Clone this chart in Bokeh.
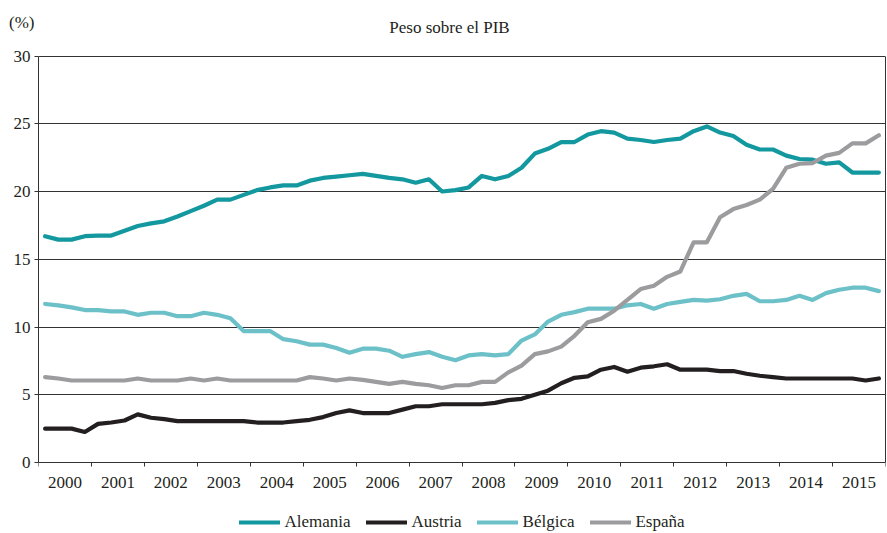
import numpy as np
from bokeh.plotting import figure
from bokeh.models import (FixedTicker, Legend, LegendItem, Label, Range1d, ColumnDataSource,
                          LinearAxis)
from bokeh.embed import file_html
from bokeh.resources import INLINE

# ---- data (quarterly, 2000Q1 .. 2015Q4) ----
years = [str(y) for y in range(2000, 2016)]
y_ticks = [0, 5, 10, 15, 20, 25, 30]

alemania = [16.7, 16.45, 16.45, 16.7, 16.75, 16.75, 17.1, 17.45, 17.65, 17.8, 18.15, 18.55,
            18.95, 19.4, 19.4, 19.75, 20.1, 20.3, 20.45, 20.45, 20.8, 21.0, 21.1, 21.2,
            21.3, 21.15, 21.0, 20.9, 20.65, 20.9, 20.0, 20.1, 20.3, 21.15, 20.9, 21.15,
            21.75, 22.8, 23.15, 23.65, 23.65, 24.2, 24.45, 24.35, 23.9, 23.8, 23.65, 23.8,
            23.9, 24.45, 24.8, 24.35, 24.1, 23.45, 23.1, 23.1, 22.65, 22.4, 22.35, 22.05,
            22.15, 21.4, 21.4, 21.4]
austria = [2.5, 2.5, 2.5, 2.25, 2.85, 2.95, 3.1, 3.55, 3.3, 3.2, 3.05, 3.05,
           3.05, 3.05, 3.05, 3.05, 2.95, 2.95, 2.95, 3.05, 3.15, 3.35, 3.65, 3.85,
           3.65, 3.65, 3.65, 3.9, 4.15, 4.15, 4.3, 4.3, 4.3, 4.3, 4.4, 4.6,
           4.7, 5.0, 5.3, 5.85, 6.25, 6.35, 6.85, 7.05, 6.7, 7.0, 7.1, 7.25,
           6.85, 6.85, 6.85, 6.75, 6.75, 6.55, 6.4, 6.3, 6.2, 6.2, 6.2, 6.2,
           6.2, 6.2, 6.05, 6.2]
belgica = [11.7, 11.6, 11.45, 11.25, 11.25, 11.15, 11.15, 10.9, 11.05, 11.05, 10.8, 10.8,
           11.05, 10.9, 10.65, 9.7, 9.7, 9.7, 9.1, 8.95, 8.7, 8.7, 8.45, 8.1,
           8.4, 8.4, 8.25, 7.8, 8.0, 8.15, 7.8, 7.55, 7.9, 8.0, 7.9, 8.0,
           9.0, 9.45, 10.4, 10.9, 11.1, 11.35, 11.35, 11.35, 11.6, 11.7, 11.35, 11.7,
           11.85, 12.0, 11.95, 12.05, 12.3, 12.45, 11.9, 11.9, 12.0, 12.3, 12.0, 12.5,
           12.75, 12.9, 12.9, 12.65]
espana = [6.3, 6.2, 6.05, 6.05, 6.05, 6.05, 6.05, 6.2, 6.05, 6.05, 6.05, 6.2,
          6.05, 6.2, 6.05, 6.05, 6.05, 6.05, 6.05, 6.05, 6.3, 6.2, 6.05, 6.2,
          6.1, 5.95, 5.8, 5.95, 5.8, 5.7, 5.5, 5.7, 5.7, 5.95, 5.95, 6.65,
          7.15, 8.0, 8.2, 8.55, 9.35, 10.35, 10.6, 11.2, 12.0, 12.8, 13.05, 13.7,
          14.1, 16.25, 16.25, 18.1, 18.7, 19.0, 19.4, 20.2, 21.75, 22.05, 22.1, 22.65,
          22.85, 23.55, 23.55, 24.15]

series_names = ["Alemania", "Austria", "Bélgica", "España"]
series_values = [alemania, austria, belgica, espana]
series_colors = ["#13989f", "#231f20", "#6cc1c9", "#9c9c9f"]
unit_label = "(%)"
title_text = "Peso sobre el PIB"

FONT = "Liberation Serif"
TXT = "#231f20"
AX = "#333333"

n_q = len(alemania)
xq = np.arange(n_q) + 0.5          # quarter midpoints
n_years = len(years)
y_top = y_ticks[-1]

# layout: the frame covers the full canvas height; the 0..30 scale occupies
# 406.5 px starting 462 px from the top, the rest holds title, years and legend
W, H = 887, 533
FW, FH = 847, H
PX_PER_UNIT = 406.5 / y_top
y_start = -(FH - 462) / PX_PER_UNIT
y_end = 462 / PX_PER_UNIT
pct_pos = 32.5                       # vertical position of the "(%)" unit label

p = figure(width=W, height=H, frame_width=FW, frame_height=FH,
           output_backend="svg", toolbar_location=None,
           x_range=Range1d(0, 4 * n_years), y_range=Range1d(y_start, y_end),
           min_border_left=38, min_border_right=2, min_border_top=0, min_border_bottom=0,
           background_fill_color="white", border_fill_color="white")
p.outline_line_color = None

# main y axis: spine, tick marks and tick labels, limited to 0..30
yax = p.yaxis[0]
yax.bounds = (0, y_top)
yax.ticker = FixedTicker(ticks=y_ticks)
yax.major_tick_out = 4
yax.major_tick_in = 0
yax.minor_tick_out = 0
yax.minor_tick_in = 0
yax.axis_line_color = AX
yax.major_tick_line_color = AX
yax.major_label_standoff = 4
yax.major_label_text_font = FONT
yax.major_label_text_font_size = "17px"
yax.major_label_text_color = TXT

# outer left axis that only carries the unit label "(%)"
unit_axis = LinearAxis(ticker=FixedTicker(ticks=[pct_pos]),
                       major_label_overrides={pct_pos: unit_label},
                       axis_line_color=None, major_tick_line_color=None, minor_tick_line_color=None,
                       major_tick_out=0, major_tick_in=0, minor_tick_out=0, minor_tick_in=0,
                       major_label_standoff=-24, major_label_text_font=FONT,
                       major_label_text_font_size="17px", major_label_text_color=TXT)
p.add_layout(unit_axis, "left")

# right border line (0..30)
r_axis = LinearAxis(bounds=(0, y_top), ticker=FixedTicker(ticks=[]),
                    axis_line_color=AX, major_tick_line_color=None, minor_tick_line_color=None,
                    major_tick_out=0, major_tick_in=0, minor_tick_out=0, minor_tick_in=0,
                    major_label_standoff=0)
p.add_layout(r_axis, "right")

# x axis drawn at y = 0: year labels at year centres, tick marks at year boundaries
label_pos = [4 * i + 2 for i in range(n_years)]
xax = p.xaxis[0]
xax.fixed_location = 0
xax.ticker = FixedTicker(ticks=label_pos, minor_ticks=[4 * i for i in range(n_years + 1)])
xax.major_label_overrides = {pos: yr for pos, yr in zip(label_pos, years)}
xax.major_tick_out = 0
xax.major_tick_in = 0
xax.minor_tick_out = 4
xax.minor_tick_in = 0
xax.minor_tick_line_color = AX
xax.major_label_standoff = 10
xax.major_label_text_font = FONT
xax.major_label_text_font_size = "17px"
xax.major_label_text_color = TXT
xax.axis_line_color = AX

p.xgrid.grid_line_color = None
p.ygrid.ticker = FixedTicker(ticks=y_ticks)
p.ygrid.grid_line_color = AX
p.ygrid.grid_line_width = 1.2

items = []
for name, vals, col in zip(series_names, series_values, series_colors):
    src = ColumnDataSource(dict(x=xq, y=vals))
    r = p.line("x", "y", source=src, line_color=col, line_width=4.2,
               line_join="round", line_cap="round")
    items.append(LegendItem(label=name, renderers=[r]))

legend = Legend(items=items, orientation="horizontal", location="bottom_center",
                label_text_font=FONT, label_text_font_size="17px", label_text_color=TXT,
                glyph_width=41, glyph_height=20, label_standoff=5, spacing=15,
                padding=0, margin=1, border_line_color=None, background_fill_alpha=0)
p.add_layout(legend, "center")

# chart title, above the 30 line
p.add_layout(Label(x=411, y=FH - 27, x_units="screen", y_units="screen", text=title_text,
                   text_align="center", text_baseline="middle",
                   text_font=FONT, text_font_size="17px", text_color=TXT))

open("out.html", "w").write(file_html(p, INLINE))
